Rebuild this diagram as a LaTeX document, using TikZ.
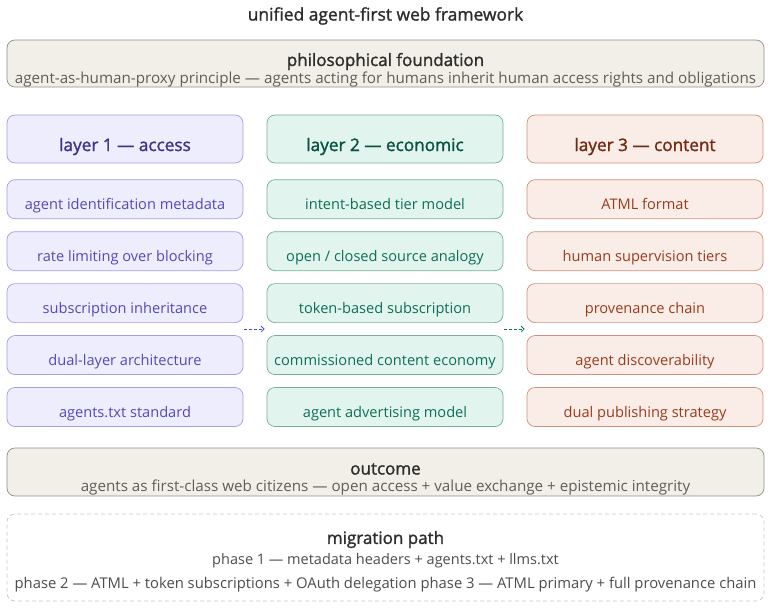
\documentclass[tikz,border=0pt]{standalone}
\usepackage{fontspec}
\setmainfont{Open Sans}
\newfontfamily\medfont[FakeBold=1.4]{Open Sans}
\usepackage{xcolor}
\usetikzlibrary{calc, positioning, arrows.meta}

\definecolor{accfill}{HTML}{EEEDFE}
\definecolor{accline}{HTML}{A49DE6}
\definecolor{acctext}{HTML}{534AB7}
\definecolor{acchead}{HTML}{3C3489}
\definecolor{ecofill}{HTML}{E1F5EE}
\definecolor{ecoline}{HTML}{74AE95}
\definecolor{ecotext}{HTML}{0F6E56}
\definecolor{ecohead}{HTML}{085041}
\definecolor{confill}{HTML}{FAECE7}
\definecolor{conline}{HTML}{CF917A}
\definecolor{context}{HTML}{993C1D}
\definecolor{conhead}{HTML}{712B13}
\definecolor{bandfill}{HTML}{F1EFE8}
\definecolor{bandline}{HTML}{8F8E88}
\definecolor{bandtext}{HTML}{2C2C2A}
\definecolor{bandsub}{HTML}{5F5E5A}
\definecolor{pathline}{HTML}{C6C6C6}

\tikzset{
  box/.style={draw, rounded corners=8pt, line width=0.7pt, inner sep=0pt, minimum width=236pt},
  head/.style={box, text height=36pt, text depth=12pt, font=\medfont\fontsize{17.2}{20}\selectfont},
  item/.style={box, text height=29.5pt, text depth=9.5pt, font=\fontsize{14.6}{17}\selectfont},
  acc/.style={fill=accfill, draw=accline, text=acctext},
  eco/.style={fill=ecofill, draw=ecoline, text=ecotext},
  con/.style={fill=confill, draw=conline, text=context},
  band/.style={draw=bandline, fill=bandfill, rounded corners=8pt, line width=0.7pt, minimum width=757pt},
  bandtitle/.style={inner sep=0pt, text=bandtext, font=\medfont\fontsize{17}{20}\selectfont},
  bandsub/.style={inner sep=0pt, text=bandsub, font=\fontsize{15.2}{17}\selectfont},
  flow/.style={->, dashed, dash pattern=on 3pt off 2pt, line width=0.8pt, shorten <=1pt, shorten >=2pt}
}

\begin{document}
\begin{tikzpicture}[x=1pt, y=-1pt, >={Straight Barb[length=3pt, width=6pt]}]
    \useasboundingbox (0,0) rectangle (771,608);

    % Titre
    \node[inner sep=0pt, text=bandtext, font=\medfont\fontsize{17.4}{20}\selectfont] (title) at (385.5,16) {unified agent-first web framework};

    % Fondation
    \node[band, minimum height=47pt] (found) at (385.5,63.5) {};
    \node[bandtitle] (foundT) at (385.5,61.5) {philosophical foundation};
    \node[bandsub] (foundS) at (385.5,79.5) {agent-as-human-proxy principle — agents acting for humans inherit human access rights and obligations};

    % Couche 1
    \node[head, acc, text=acchead] (acc) at (125,139) {layer 1 — access};
    \node[item, acc, below=16pt of acc] (acc1) {agent identification metadata};
    \node[item, acc, below=12.25pt of acc1] (acc2) {rate limiting over blocking};
    \node[item, acc, below=12.25pt of acc2] (acc3) {subscription inheritance};
    \node[item, acc, below=12.25pt of acc3] (acc4) {dual-layer architecture};
    \node[item, acc, below=12.25pt of acc4] (acc5) {agents.txt standard};

    % Couche 2
    \node[head, eco, text=ecohead] (eco) at (385,139) {layer 2 — economic};
    \node[item, eco, below=16pt of eco] (eco1) {intent-based tier model};
    \node[item, eco, below=12.25pt of eco1] (eco2) {open / closed source analogy};
    \node[item, eco, below=12.25pt of eco2] (eco3) {token-based subscription};
    \node[item, eco, below=12.25pt of eco3] (eco4) {commissioned content economy};
    \node[item, eco, below=12.25pt of eco4] (eco5) {agent advertising model};

    % Couche 3
    \node[head, con, text=conhead] (con) at (645,139) {layer 3 — content};
    \node[item, con, below=16pt of con] (con1) {ATML format};
    \node[item, con, below=12.25pt of con1] (con2) {human supervision tiers};
    \node[item, con, below=12.25pt of con2] (con3) {provenance chain};
    \node[item, con, below=12.25pt of con3] (con4) {agent discoverability};
    \node[item, con, below=12.25pt of con4] (con5) {dual publishing strategy};

    % Fleches entre couches
    \coordinate (g1a) at ($(acc3.south east)!.5!(acc4.north east)$);
    \coordinate (g1b) at ($(eco3.south west)!.5!(eco4.north west)$);
    \coordinate (g2a) at ($(eco3.south east)!.5!(eco4.north east)$);
    \coordinate (g2b) at ($(con3.south west)!.5!(con4.north west)$);
    \draw[flow, acctext] (g1a) -- (g1b);
    \draw[flow, ecotext] (g2a) -- (g2b);

    % Resultat
    \node[band, minimum height=48pt] (outc) at (385.5,472) {};
    \node[bandtitle] (outcT) at (385.5,469) {outcome};
    \node[bandsub] (outcS) at (385.5,488) {agents as first-class web citizens — open access + value exchange + epistemic integrity};

    % Migration
    \node[draw=pathline, dashed, dash pattern=on 4pt off 3pt, rounded corners=8pt, line width=0.7pt, minimum width=757pt, minimum height=87pt] (mig) at (385.5,557.5) {};
    \node[bandtitle] (migT) at (385.5,539.5) {migration path};
    \node[bandsub, text=bandtext!85, font=\fontsize{14.5}{17}\selectfont] (mig1) at (385.5,561) {phase 1 — metadata headers + agents.txt + llms.txt};
    \node[bandsub, text=bandtext!85, font=\fontsize{14.8}{17}\selectfont] (mig2) at (385.5,585) {phase 2 — ATML + token subscriptions + OAuth delegation phase 3 — ATML primary + full provenance chain};
\end{tikzpicture}
\end{document}
